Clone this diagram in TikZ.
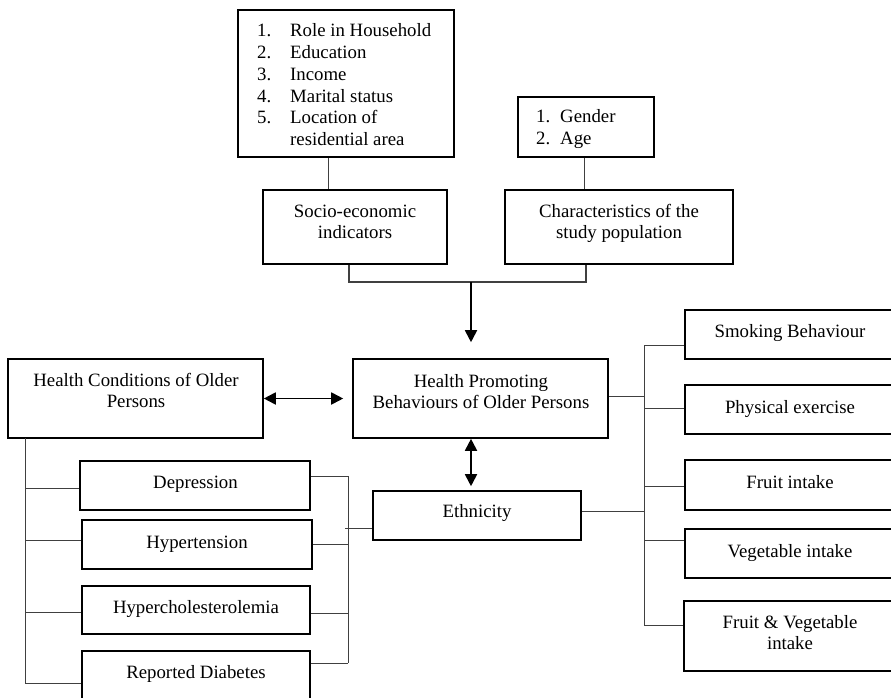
\documentclass[tikz,border=0pt]{standalone}
\usepackage{fontspec}
\setmainfont{Liberation Serif}
\usetikzlibrary{arrows.meta}
\newcommand\ctxt[1]{\begin{tabular}[t]{@{}c@{}}#1\end{tabular}}
\tikzset{
  box/.style={draw=black, line width=1.6pt, rectangle, inner sep=0pt, fill=none},
  lbl/.style={anchor=base, inner sep=0pt, font=\fontsize{18.8}{21.7}\selectfont},
  conn/.style={draw=black!75, line width=0.9pt},
  arr/.style={draw=black, line width=1.8pt, -{Triangle[length=12pt,width=12pt]}},
  dbl/.style={draw=black, line width=1.8pt, {Triangle[length=12pt,width=12pt]}-{Triangle[length=12pt,width=12pt]}}
}
\begin{document}
\begin{tikzpicture}[x=1pt,y=-1pt]
\useasboundingbox (0,0) rectangle (891,698);
\fill[white] (0,0) rectangle (891,698);
\clip (0,0) rectangle (891,698);
% boxes
\node[box, minimum width=216pt, minimum height=147pt] (lst) at (346,83.5) {};
\node[box, minimum width=136pt, minimum height=60pt] (gen) at (586,127) {};
\node[box, minimum width=184pt, minimum height=74pt] (soc) at (355,227) {};
\node[box, minimum width=228pt, minimum height=74pt] (chr) at (619,227) {};
\node[box, minimum width=255pt, minimum height=79pt] (hpb) at (480.5,398.5) {};
\node[box, minimum width=255pt, minimum height=79pt] (hco) at (135.5,398.5) {};
\node[box, minimum width=208pt, minimum height=49pt] (eth) at (477,515.5) {};
\node[box, minimum width=230pt, minimum height=49pt] (dep) at (195,485.5) {};
\node[box, minimum width=230pt, minimum height=49pt] (hyt) at (197,544.5) {};
\node[box, minimum width=228pt, minimum height=48pt] (hch) at (196,610) {};
\node[box, minimum width=228pt, minimum height=64pt] (dia) at (196,683) {};
\node[box, minimum width=210pt, minimum height=49pt] (smk) at (790,334.5) {};
\node[box, minimum width=210pt, minimum height=49pt] (phy) at (790,409.5) {};
\node[box, minimum width=210pt, minimum height=50pt] (fru) at (790,485) {};
\node[box, minimum width=210pt, minimum height=49pt] (veg) at (790,553.5) {};
\node[box, minimum width=211pt, minimum height=70pt] (fav) at (789.5,636) {};
% texts
\node[lbl, anchor=base west] (t-lst) at (257,37) {\begin{tabular}[t]{@{}p{33pt}@{}l@{}}1.&Role in Household\\2.&Education\\3.&Income\\4.&Marital status\\5.&Location of\\&residential area\end{tabular}};
\node[lbl, anchor=base west] (t-gen) at (536,123) {\begin{tabular}[t]{@{}p{24pt}@{}l@{}}1.&Gender\\2.&Age\end{tabular}};
\node[lbl] (t-soc) at (355,217) {\ctxt{Socio-economic\\indicators}};
\node[lbl] (t-chr) at (619,217) {\ctxt{Characteristics of the\\study population}};
\node[lbl] (t-hpb) at (481,387) {\ctxt{Health Promoting\\Behaviours of Older Persons}};
\node[lbl] (t-hco) at (136,386) {\ctxt{Health Conditions of Older\\Persons}};
\node[lbl] (t-eth) at (477,517) {Ethnicity};
\node[lbl] (t-dep) at (195.5,488) {Depression};
\node[lbl] (t-hyt) at (197,548) {Hypertension};
\node[lbl] (t-hch) at (196,613) {Hypercholesterolemia};
\node[lbl] (t-dia) at (196,678) {Reported Diabetes};
\node[lbl] (t-smk) at (790,337) {Smoking Behaviour};
\node[lbl] (t-phy) at (790,413) {Physical exercise};
\node[lbl] (t-fru) at (790,488) {Fruit intake};
\node[lbl] (t-veg) at (790,557) {Vegetable intake};
\node[lbl] (t-fav) at (790,628) {\ctxt{Fruit \& Vegetable\\intake}};
% top connectors
\draw[conn] ([xshift=-18pt]lst.south) -- ([xshift=-27pt]soc.north);
\draw[conn] ([xshift=-2pt]gen.south) -- ([xshift=-35pt]chr.north);
\coordinate (jn) at (471,282);
\draw[conn, line width=1.2pt] ([xshift=-6pt]soc.south) |- (jn) -| ([xshift=-33pt]chr.south);
\draw[arr, shorten >=16pt] (jn) -- (jn |- hpb.north);
\draw[dbl, shorten >=9pt] (hco.east) -- (hco.east -| hpb.west);
\draw[dbl, shorten >=4pt] (jn |- hpb.south) -- (jn |- eth.north);
% left tree
\coordinate (lt) at (25,438);
\coordinate (l1) at (25,488);
\coordinate (l2) at (25,540);
\coordinate (l3) at (26,612);
\draw[conn] (lt) |- (dia.west);
\draw[conn] (l1) -- (l1 -| dep.west);
\draw[conn] (l2) -- (l2 -| hyt.west);
\draw[conn] (l3) -- (l3 -| hch.west);
% bracket between conditions and ethnicity
\coordinate (lbt) at (348,476);
\coordinate (lbb) at (348,663);
\coordinate (lb3) at (348,613);
\coordinate (lbe) at (345,528);
\draw[conn] (lbt) -- (lbb);
\draw[conn] (lbt -| dep.east) -- (lbt);
\draw[conn] (hyt.east) -- (hyt.east -| lbt);
\draw[conn] (lb3 -| hch.east) -- (lb3);
\draw[conn] (lbb -| dia.east) -- (lbb);
\draw[conn] (lbe) -- (lbe -| eth.west);
% right tree
\coordinate (rvt) at (644,345);
\coordinate (rvb) at (644,625);
\coordinate (r2) at (644,408);
\coordinate (r3) at (644,486);
\coordinate (r4) at (644,540);
\coordinate (rh) at (644,396);
\coordinate (re) at (644,511);
\draw[conn] (rvt) -- (rvb);
\draw[conn] (rvt) -- (rvt -| smk.west);
\draw[conn] (r2) -- (r2 -| phy.west);
\draw[conn] (r3) -- (r3 -| fru.west);
\draw[conn] (r4) -- (r4 -| veg.west);
\draw[conn] (rvb) -- (rvb -| fav.west);
\draw[conn] (rh -| hpb.east) -- (rh);
\draw[conn] (re -| eth.east) -- (re);
\end{tikzpicture}
\end{document}
